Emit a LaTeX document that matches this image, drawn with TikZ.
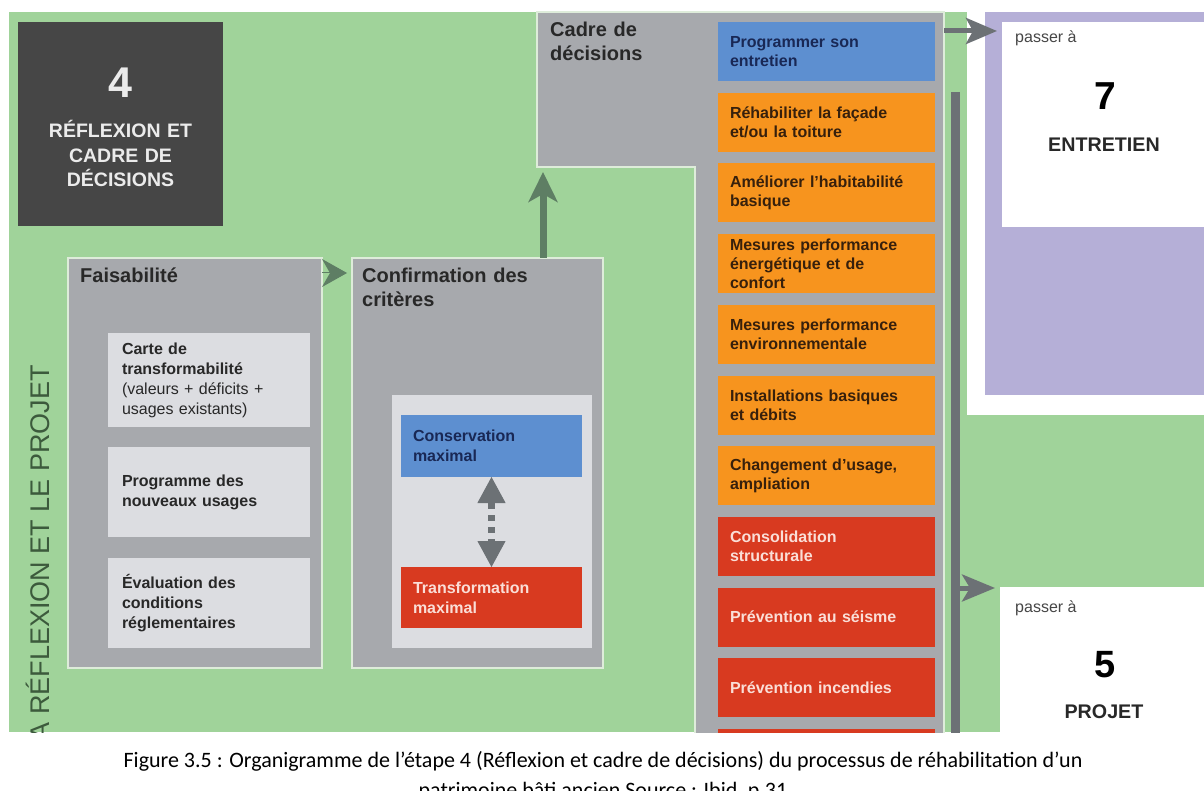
\documentclass[tikz,border=0pt]{standalone}
\usepackage{fontspec}
\setmainfont{Liberation Sans}
\newfontfamily\capfont{Carlito}
\usetikzlibrary{arrows.meta,calc}

\definecolor{bggreen}{RGB}{160,211,154}
\definecolor{panelgray}{RGB}{167,169,173}
\definecolor{lightgray}{RGB}{220,221,225}
\definecolor{edgecol}{RGB}{222,236,218}
\definecolor{darkbox}{RGB}{70,70,70}
\definecolor{bluebox}{RGB}{93,143,208}
\definecolor{orangebox}{RGB}{247,148,30}
\definecolor{redbox}{RGB}{216,58,32}
\definecolor{lilac}{RGB}{181,175,215}
\definecolor{arrowgray}{RGB}{108,113,117}
\definecolor{arrowgreen}{RGB}{94,126,100}
\definecolor{titletext}{RGB}{40,40,40}
\definecolor{bluetext}{RGB}{25,40,85}
\definecolor{orangetext}{RGB}{55,32,12}
\definecolor{redtext}{RGB}{250,222,215}
\definecolor{verttext}{RGB}{60,90,60}

\tikzset{
  panel/.style={draw=edgecol, line width=1.5pt, fill=panelgray},
  blockbox/.style={anchor=north west, inner ysep=0pt, outer sep=0pt, align=left},
  feasbox/.style={blockbox, fill=lightgray, text=titletext, text width=174pt, inner xsep=14pt,
    font=\fontsize{16}{20}\selectfont\bfseries},
  critbox/.style={blockbox, text width=157pt, inner xsep=12pt, minimum height=62pt,
    font=\fontsize{16}{20}\selectfont\bfseries},
  decbox/.style={blockbox, text width=193pt, inner xsep=12pt, minimum height=59pt,
    font=\fontsize{16}{19}\selectfont\bfseries},
  decblue/.style={decbox, fill=bluebox, text=bluetext},
  decorange/.style={decbox, fill=orangebox, text=orangetext},
  decred/.style={decbox, fill=redbox, text=redtext},
  titlelabel/.style={anchor=base west, inner sep=0pt, text=titletext, align=left,
    font=\fontsize{20}{24}\selectfont\bfseries},
  stepcard/.style={anchor=north west, fill=white, inner sep=0pt, outer sep=0pt},
  passlabel/.style={anchor=base west, inner sep=0pt, text=darkbox, font=\fontsize{16}{18}\selectfont},
  bignum/.style={anchor=base, inner sep=0pt, text=black, font=\fontsize{39}{44}\selectfont\bfseries},
  stepname/.style={anchor=base, inner sep=0pt, text=titletext, font=\fontsize{19.7}{24}\selectfont\bfseries},
  flowarrow/.style={draw=arrowgray, fill=arrowgray, line width=5pt,
    -{Stealth[length=31pt, width=26pt, inset=7pt]}},
}

\begin{document}
\begin{tikzpicture}[x=1pt, y=-1pt]
\useasboundingbox (0,0) rectangle (1204,791);
\fill[white] (0,0) rectangle (1204,791);

\begin{scope}
\clip (0,0) rectangle (1204,732);
% green backdrop of step 4
\fill[bggreen] (9,12) rectangle (1204,732);

% side title
\node[rotate=90, anchor=base east, inner sep=0pt, text=verttext,
      font=\fontsize{27}{30}\selectfont] (side) at (49,365) {LA RÉFLEXION ET LE PROJET};

% step badge
\node[anchor=north west, fill=darkbox, minimum width=205pt, minimum height=204pt,
      inner sep=0pt, outer sep=0pt] (badge) at (18,22) {};
\node[anchor=base, inner sep=0pt, text=white!92!black,
      font=\fontsize{43}{48}\selectfont\bfseries] (badgenum) at (120.5,98) {4};
\node[anchor=base, inner sep=0pt, text=white!92!black, align=center, text width=200pt,
      font=\fontsize{19.5}{24.5}\selectfont\bfseries] (badgetxt) at (120.5,138)
      {RÉFLEXION ET\\CADRE DE\\DÉCISIONS};

% feasibility panel
\node[panel, anchor=north west, minimum width=254pt, minimum height=410pt,
      inner sep=0pt, outer sep=0pt] (fais) at (68,258) {};
\node[titlelabel] (faistitle) at (80,283) {Faisabilité};
\node[feasbox, minimum height=94pt] (carte) at (108,333)
  {Carte de\\transformabilité\\{\mdseries (valeurs + déficits +}\\{\mdseries usages existants)}};
\node[feasbox, minimum height=90pt] (prog) at (108,447) {Programme des\\nouveaux usages};
\node[feasbox, minimum height=90pt] (eval) at (108,558) {Évaluation des\\conditions\\réglementaires};

% criteria panel
\node[panel, anchor=north west, minimum width=251pt, minimum height=410pt,
      inner sep=0pt, outer sep=0pt] (conf) at (352,258) {};
\node[titlelabel, text width=230pt] (conftitle) at (362,283) {Confirmation des\\critères};
\node[anchor=north west, fill=lightgray, minimum width=200pt, minimum height=253pt,
      inner sep=0pt, outer sep=0pt] (confin) at (392,395) {};
\node[critbox, fill=bluebox, text=bluetext] (cons) at (401,415) {Conservation\\maximal};
\node[critbox, fill=redbox, text=redtext, minimum height=61pt] (trans) at (401,567)
  {Transformation\\maximal};

% two-way scale between the two extremes
\draw[draw=arrowgray, line width=7pt, dash pattern=on 6pt off 6pt]
  ([yshift=-26pt]cons.south) -- ([yshift=26pt]trans.north);
\draw[draw=arrowgray, fill=arrowgray, line width=1pt, -{Triangle[length=26pt, width=28pt]}]
  ([yshift=-27pt]cons.south) -- (cons.south);
\draw[draw=arrowgray, fill=arrowgray, line width=1pt, -{Triangle[length=26pt, width=28pt]}]
  ([yshift=27pt]trans.north) -- (trans.north);

% decision frame (L-shaped)
\filldraw[panel] (537,12) -- (944,12) -- (944,745) -- (695,745) -- (695,167) -- (537,167) -- cycle;
\coordinate (cadrefoot) at (543,167);
\coordinate (cadreexit) at (944,31);
\node[titlelabel, text width=140pt] (cadretitle) at (550,37) {Cadre de\\décisions};

\node[decblue]   (d1)  at (718,22)    {Programmer son\\entretien};
\node[decorange] (d2)  at (718,92.7)  {Réhabiliter la façade\\et/ou la toiture};
\node[decorange] (d3)  at (718,163.4) {Améliorer l'habitabilité\\basique};
\node[decorange] (d4)  at (718,234.1) {Mesures performance\\énergétique et de\\confort};
\node[decorange] (d5)  at (718,304.8) {Mesures performance\\environnementale};
\node[decorange] (d6)  at (718,375.5) {Installations basiques\\et débits};
\node[decorange] (d7)  at (718,446.2) {Changement d'usage,\\ampliation};
\node[decred]    (d8)  at (718,516.9) {Consolidation\\structurale};
\node[decred]    (d9)  at (718,587.6) {Prévention au séisme};
\node[decred]    (d10) at (718,658.3) {Prévention incendies};
\node[decred]    (d11) at (718,729)   {};

% vertical collector bar
\coordinate (bartop) at (955.5,92);
\draw[draw=arrowgray, line width=9pt] (bartop) -- (955.5,745);
\coordinate (barout) at (958,588);

% maintenance step card
\fill[white] (967,0) rectangle (1204,415);
\fill[lilac] (985,12) rectangle (1204,395);
\node[stepcard, minimum width=202pt, minimum height=205pt] (step7) at (1002,22) {};
\node[passlabel] (pass7) at (1015,43) {passer à};
\node[bignum] (num7) at (1105,110) {7};
\node[stepname] (name7) at (1104,152) {ENTRETIEN};

% project step card
\node[stepcard, minimum width=204pt, minimum height=160pt] (step5) at (1000,587) {};
\node[passlabel] (pass5) at (1015,612) {passer à};
\node[bignum, font=\fontsize{38}{44}\selectfont\bfseries] (num5) at (1105,677) {5};
\node[stepname] (name5) at (1104,718) {PROJET};

% flow connectors
\draw[draw=arrowgreen, fill=arrowgreen, line width=1pt, shorten >=5pt,
      -{Stealth[length=25pt, width=28pt, inset=8pt]}]
  ([yshift=-15pt]fais.north east) -- ([yshift=-15pt]conf.north west);
\draw[draw=arrowgreen, fill=arrowgreen, line width=7pt, shorten >=5pt,
      -{Stealth[length=30pt, width=29pt, inset=8pt]}]
  (cadrefoot |- conf.north) -- (cadrefoot);
\draw[flowarrow, shorten >=5pt] (cadreexit) -- (cadreexit -| step7.west);
\draw[flowarrow, shorten >=5pt, -{Stealth[length=33pt, width=27pt, inset=8pt]}]
  (barout) -- (barout -| step5.west);
\end{scope}

% caption
\begin{scope}
\clip (0,0) rectangle (1204,791);
\node[anchor=base, inner sep=0pt, font=\capfont\fontsize{22}{30}\selectfont] (cap1) at (603,767)
  {Figure 3.5 : Organigramme de l’étape 4 (Réflexion et cadre de décisions) du processus de réhabilitation d’un};
\node[anchor=base, inner sep=0pt, font=\capfont\fontsize{22}{30}\selectfont] (cap2) at (603,797)
  {patrimoine bâti ancien Source : Ibid, p.31};
\end{scope}
\end{tikzpicture}
\end{document}
